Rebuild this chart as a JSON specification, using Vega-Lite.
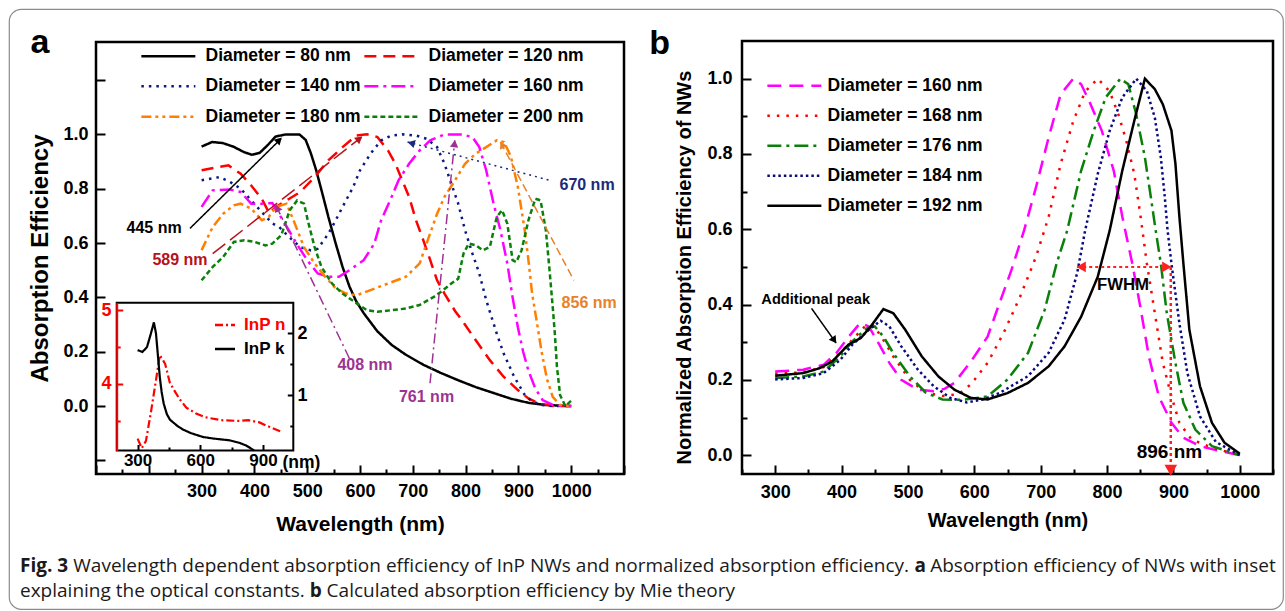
{
"$schema": "https://vega.github.io/schema/vega-lite/v6.json",
"width": 1274, "height": 600,
"autosize": {"type": "none"},
"padding": {"left": 9, "top": 9, "right": 2, "bottom": 2},
"background": "white",
"config": {
  "font": "Liberation Sans",
  "view": {"stroke": "#8c8c8c", "strokeWidth": 1.2, "cornerRadius": 12},
  "axis": {"labelFont": "Liberation Sans", "titleFont": "Liberation Sans", "labelFontWeight": "bold", "titleFontWeight": "bold", "labelColor": "black", "titleColor": "black", "tickColor": "black", "tickWidth": 2, "domain": false, "grid": false, "labelFlush": false, "labelOverlap": false, "labelBound": false},
  "legend": {"labelFont": "Liberation Sans", "labelFontWeight": "bold", "labelColor": "black"},
  "text": {"font": "Liberation Sans", "color": "black"},
  "line": {"strokeCap": "butt"}
},
"datasets": {
  "A": [
    {"s":"80","nm":300,"v":0.955},{"s":"80","nm":320,"v":0.972},{"s":"80","nm":340,"v":0.968},{"s":"80","nm":360,"v":0.955},{"s":"80","nm":380,"v":0.935},{"s":"80","nm":395,"v":0.925},{"s":"80","nm":410,"v":0.932},{"s":"80","nm":425,"v":0.96},{"s":"80","nm":440,"v":0.992},{"s":"80","nm":460,"v":1.0},{"s":"80","nm":485,"v":1.0},{"s":"80","nm":497,"v":0.98},{"s":"80","nm":507,"v":0.93},{"s":"80","nm":517,"v":0.868},{"s":"80","nm":527,"v":0.795},{"s":"80","nm":540,"v":0.697},{"s":"80","nm":554,"v":0.598},{"s":"80","nm":567,"v":0.512},{"s":"80","nm":580,"v":0.44},{"s":"80","nm":593,"v":0.385},{"s":"80","nm":607,"v":0.342},{"s":"80","nm":633,"v":0.275},{"s":"80","nm":660,"v":0.225},{"s":"80","nm":686,"v":0.19},{"s":"80","nm":720,"v":0.152},{"s":"80","nm":753,"v":0.122},{"s":"80","nm":786,"v":0.095},{"s":"80","nm":819,"v":0.07},{"s":"80","nm":853,"v":0.048},{"s":"80","nm":886,"v":0.027},{"s":"80","nm":919,"v":0.012},{"s":"80","nm":952,"v":0.004},{"s":"80","nm":1000,"v":0.0},
    {"s":"120","nm":300,"v":0.868},{"s":"120","nm":334,"v":0.88},{"s":"120","nm":351,"v":0.886},{"s":"120","nm":374,"v":0.855},{"s":"120","nm":394,"v":0.812},{"s":"120","nm":414,"v":0.763},{"s":"120","nm":428,"v":0.71},{"s":"120","nm":441,"v":0.733},{"s":"120","nm":461,"v":0.757},{"s":"120","nm":487,"v":0.788},{"s":"120","nm":514,"v":0.843},{"s":"120","nm":540,"v":0.904},{"s":"120","nm":567,"v":0.953},{"s":"120","nm":593,"v":0.996},{"s":"120","nm":613,"v":1.0},{"s":"120","nm":633,"v":0.99},{"s":"120","nm":653,"v":0.941},{"s":"120","nm":667,"v":0.892},{"s":"120","nm":680,"v":0.831},{"s":"120","nm":693,"v":0.77},{"s":"120","nm":706,"v":0.684},{"s":"120","nm":720,"v":0.61},{"s":"120","nm":733,"v":0.537},{"s":"120","nm":746,"v":0.463},{"s":"120","nm":760,"v":0.414},{"s":"120","nm":780,"v":0.35},{"s":"120","nm":793,"v":0.316},{"s":"120","nm":819,"v":0.243},{"s":"120","nm":846,"v":0.169},{"s":"120","nm":872,"v":0.108},{"s":"120","nm":899,"v":0.059},{"s":"120","nm":919,"v":0.028},{"s":"120","nm":939,"v":0.01},{"s":"120","nm":965,"v":0.0},{"s":"120","nm":1000,"v":0.0},
    {"s":"140","nm":300,"v":0.831},{"s":"140","nm":334,"v":0.843},{"s":"140","nm":354,"v":0.825},{"s":"140","nm":374,"v":0.8},{"s":"140","nm":394,"v":0.757},{"s":"140","nm":414,"v":0.714},{"s":"140","nm":434,"v":0.672},{"s":"140","nm":447,"v":0.659},{"s":"140","nm":467,"v":0.62},{"s":"140","nm":487,"v":0.585},{"s":"140","nm":507,"v":0.573},{"s":"140","nm":520,"v":0.579},{"s":"140","nm":540,"v":0.634},{"s":"140","nm":554,"v":0.684},{"s":"140","nm":567,"v":0.733},{"s":"140","nm":587,"v":0.806},{"s":"140","nm":600,"v":0.868},{"s":"140","nm":620,"v":0.929},{"s":"140","nm":640,"v":0.978},{"s":"140","nm":660,"v":0.996},{"s":"140","nm":680,"v":1.0},{"s":"140","nm":706,"v":0.996},{"s":"140","nm":726,"v":0.984},{"s":"140","nm":746,"v":0.953},{"s":"140","nm":760,"v":0.892},{"s":"140","nm":773,"v":0.818},{"s":"140","nm":786,"v":0.745},{"s":"140","nm":799,"v":0.647},{"s":"140","nm":813,"v":0.561},{"s":"140","nm":826,"v":0.488},{"s":"140","nm":839,"v":0.39},{"s":"140","nm":859,"v":0.267},{"s":"140","nm":872,"v":0.194},{"s":"140","nm":892,"v":0.108},{"s":"140","nm":912,"v":0.041},{"s":"140","nm":926,"v":0.017},{"s":"140","nm":945,"v":0.004},{"s":"140","nm":965,"v":0.0},{"s":"140","nm":1000,"v":0.0},
    {"s":"160","nm":300,"v":0.733},{"s":"160","nm":321,"v":0.794},{"s":"160","nm":354,"v":0.797},{"s":"160","nm":374,"v":0.788},{"s":"160","nm":394,"v":0.745},{"s":"160","nm":414,"v":0.745},{"s":"160","nm":434,"v":0.747},{"s":"160","nm":454,"v":0.684},{"s":"160","nm":480,"v":0.598},{"s":"160","nm":500,"v":0.537},{"s":"160","nm":520,"v":0.488},{"s":"160","nm":540,"v":0.476},{"s":"160","nm":560,"v":0.476},{"s":"160","nm":580,"v":0.5},{"s":"160","nm":607,"v":0.537},{"s":"160","nm":627,"v":0.598},{"s":"160","nm":640,"v":0.684},{"s":"160","nm":660,"v":0.77},{"s":"160","nm":673,"v":0.831},{"s":"160","nm":693,"v":0.892},{"s":"160","nm":713,"v":0.941},{"s":"160","nm":733,"v":0.978},{"s":"160","nm":760,"v":1.0},{"s":"160","nm":793,"v":1.0},{"s":"160","nm":813,"v":0.99},{"s":"160","nm":826,"v":0.953},{"s":"160","nm":839,"v":0.868},{"s":"160","nm":853,"v":0.745},{"s":"160","nm":866,"v":0.647},{"s":"160","nm":879,"v":0.525},{"s":"160","nm":889,"v":0.4},{"s":"160","nm":899,"v":0.29},{"s":"160","nm":909,"v":0.2},{"s":"160","nm":919,"v":0.13},{"s":"160","nm":932,"v":0.065},{"s":"160","nm":946,"v":0.022},{"s":"160","nm":965,"v":0.004},{"s":"160","nm":985,"v":0.0},{"s":"160","nm":1000,"v":0.0},
    {"s":"180","nm":300,"v":0.574},{"s":"180","nm":321,"v":0.659},{"s":"180","nm":341,"v":0.708},{"s":"180","nm":361,"v":0.739},{"s":"180","nm":374,"v":0.745},{"s":"180","nm":394,"v":0.727},{"s":"180","nm":414,"v":0.684},{"s":"180","nm":427,"v":0.696},{"s":"180","nm":441,"v":0.733},{"s":"180","nm":461,"v":0.745},{"s":"180","nm":474,"v":0.684},{"s":"180","nm":494,"v":0.585},{"s":"180","nm":514,"v":0.525},{"s":"180","nm":534,"v":0.476},{"s":"180","nm":554,"v":0.433},{"s":"180","nm":574,"v":0.414},{"s":"180","nm":594,"v":0.408},{"s":"180","nm":620,"v":0.427},{"s":"180","nm":653,"v":0.451},{"s":"180","nm":687,"v":0.476},{"s":"180","nm":713,"v":0.525},{"s":"180","nm":726,"v":0.598},{"s":"180","nm":746,"v":0.708},{"s":"180","nm":760,"v":0.77},{"s":"180","nm":780,"v":0.831},{"s":"180","nm":799,"v":0.892},{"s":"180","nm":819,"v":0.929},{"s":"180","nm":839,"v":0.953},{"s":"180","nm":859,"v":0.978},{"s":"180","nm":873,"v":0.972},{"s":"180","nm":886,"v":0.917},{"s":"180","nm":899,"v":0.806},{"s":"180","nm":912,"v":0.647},{"s":"180","nm":919,"v":0.537},{"s":"180","nm":926,"v":0.414},{"s":"180","nm":934,"v":0.32},{"s":"180","nm":944,"v":0.2},{"s":"180","nm":954,"v":0.1},{"s":"180","nm":965,"v":0.034},{"s":"180","nm":979,"v":0.004},{"s":"180","nm":1000,"v":0.0},
    {"s":"200","nm":300,"v":0.463},{"s":"200","nm":321,"v":0.512},{"s":"200","nm":341,"v":0.549},{"s":"200","nm":361,"v":0.604},{"s":"200","nm":381,"v":0.61},{"s":"200","nm":401,"v":0.604},{"s":"200","nm":421,"v":0.591},{"s":"200","nm":434,"v":0.598},{"s":"200","nm":451,"v":0.629},{"s":"200","nm":467,"v":0.721},{"s":"200","nm":481,"v":0.757},{"s":"200","nm":494,"v":0.745},{"s":"200","nm":501,"v":0.684},{"s":"200","nm":514,"v":0.585},{"s":"200","nm":527,"v":0.512},{"s":"200","nm":547,"v":0.451},{"s":"200","nm":567,"v":0.414},{"s":"200","nm":594,"v":0.378},{"s":"200","nm":613,"v":0.353},{"s":"200","nm":633,"v":0.347},{"s":"200","nm":660,"v":0.353},{"s":"200","nm":687,"v":0.359},{"s":"200","nm":713,"v":0.372},{"s":"200","nm":740,"v":0.402},{"s":"200","nm":753,"v":0.42},{"s":"200","nm":773,"v":0.451},{"s":"200","nm":786,"v":0.469},{"s":"200","nm":796,"v":0.561},{"s":"200","nm":806,"v":0.598},{"s":"200","nm":819,"v":0.592},{"s":"200","nm":833,"v":0.573},{"s":"200","nm":846,"v":0.586},{"s":"200","nm":859,"v":0.696},{"s":"200","nm":869,"v":0.721},{"s":"200","nm":879,"v":0.672},{"s":"200","nm":889,"v":0.537},{"s":"200","nm":896,"v":0.53},{"s":"200","nm":906,"v":0.573},{"s":"200","nm":919,"v":0.684},{"s":"200","nm":932,"v":0.763},{"s":"200","nm":942,"v":0.757},{"s":"200","nm":952,"v":0.647},{"s":"200","nm":959,"v":0.5},{"s":"200","nm":965,"v":0.365},{"s":"200","nm":969,"v":0.267},{"s":"200","nm":973,"v":0.145},{"s":"200","nm":979,"v":0.04},{"s":"200","nm":989,"v":0.0},{"s":"200","nm":1000,"v":0.02}
  ],
  "arrowsA": [
    {"id":"445","nm":278,"v":0.654},{"id":"445","nm":450.4,"v":0.984},
    {"id":"589","nm":321,"v":0.561},{"id":"589","nm":603,"v":0.99},
    {"id":"670","nm":959,"v":0.831},{"id":"670","nm":690,"v":0.972},
    {"id":"856","nm":1005,"v":0.463},{"id":"856","nm":866,"v":0.972},
    {"id":"408","nm":580,"v":0.175},{"id":"408","nm":440.7,"v":0.739},
    {"id":"761","nm":732.6,"v":0.084},{"id":"761","nm":779.5,"v":0.978}
  ],
  "headsA": [
    {"id":"445","nm":447,"v":0.979,"heading":45.4},
    {"id":"589","nm":599,"v":0.984,"heading":52},
    {"id":"670","nm":697,"v":0.968,"heading":285},
    {"id":"856","nm":869,"v":0.962,"heading":332},
    {"id":"408","nm":443,"v":0.729,"heading":334},
    {"id":"761","nm":779,"v":0.966,"heading":6}
  ],
  "labelsA": [
    {"id":"445","t":"445 nm","nm":210,"v":0.654},
    {"id":"589","t":"589 nm","nm":259,"v":0.537},
    {"id":"670","t":"670 nm","nm":1030,"v":0.812},
    {"id":"856","t":"856 nm","nm":1034,"v":0.379},
    {"id":"408","t":"408 nm","nm":609.5,"v":0.151},
    {"id":"761","t":"761 nm","nm":726,"v":0.034}
  ],
  "inN": [
    {"s":"InP n","nm":300,"val":3.26},{"s":"InP n","nm":320,"val":3.13},{"s":"InP n","nm":340,"val":3.23},{"s":"InP n","nm":365,"val":3.64},{"s":"InP n","nm":390,"val":4.09},{"s":"InP n","nm":406,"val":4.39},{"s":"InP n","nm":420,"val":4.33},{"s":"InP n","nm":432,"val":4.27},{"s":"InP n","nm":454,"val":4.02},{"s":"InP n","nm":474,"val":3.92},{"s":"InP n","nm":500,"val":3.8},{"s":"InP n","nm":533,"val":3.68},{"s":"InP n","nm":580,"val":3.6},{"s":"InP n","nm":624,"val":3.55},{"s":"InP n","nm":700,"val":3.51},{"s":"InP n","nm":787,"val":3.5},{"s":"InP n","nm":830,"val":3.51},{"s":"InP n","nm":883,"val":3.48},{"s":"InP n","nm":930,"val":3.42},{"s":"InP n","nm":982,"val":3.36}
  ],
  "inK": [
    {"s":"InP k","nm":300,"val":1.73},{"s":"InP k","nm":323,"val":1.7},{"s":"InP k","nm":345,"val":1.78},{"s":"InP k","nm":362,"val":1.98},{"s":"InP k","nm":378,"val":2.18},{"s":"InP k","nm":388,"val":2.0},{"s":"InP k","nm":397,"val":1.65},{"s":"InP k","nm":406,"val":1.3},{"s":"InP k","nm":415,"val":1.05},{"s":"InP k","nm":425,"val":0.86},{"s":"InP k","nm":440,"val":0.69},{"s":"InP k","nm":455,"val":0.6},{"s":"InP k","nm":490,"val":0.5},{"s":"InP k","nm":517,"val":0.44},{"s":"InP k","nm":557,"val":0.38},{"s":"InP k","nm":612,"val":0.32},{"s":"InP k","nm":660,"val":0.295},{"s":"InP k","nm":741,"val":0.265},{"s":"InP k","nm":791,"val":0.22},{"s":"InP k","nm":820,"val":0.18},{"s":"InP k","nm":841,"val":0.136},{"s":"InP k","nm":858,"val":0.1}
  ],
  "B": [
    {"s":"160","nm":300,"v":0.222},{"s":"160","nm":342,"v":0.227},{"s":"160","nm":373,"v":0.24},{"s":"160","nm":392,"v":0.271},{"s":"160","nm":410,"v":0.313},{"s":"160","nm":428,"v":0.351},{"s":"160","nm":441,"v":0.342},{"s":"160","nm":453,"v":0.306},{"s":"160","nm":472,"v":0.245},{"s":"160","nm":490,"v":0.2},{"s":"160","nm":515,"v":0.174},{"s":"160","nm":539,"v":0.17},{"s":"160","nm":555,"v":0.176},{"s":"160","nm":570,"v":0.192},{"s":"160","nm":595,"v":0.249},{"s":"160","nm":620,"v":0.315},{"s":"160","nm":638,"v":0.404},{"s":"160","nm":656,"v":0.492},{"s":"160","nm":675,"v":0.597},{"s":"160","nm":693,"v":0.712},{"s":"160","nm":712,"v":0.844},{"s":"160","nm":730,"v":0.958},{"s":"160","nm":749,"v":1.0},{"s":"160","nm":761,"v":0.985},{"s":"160","nm":773,"v":0.941},{"s":"160","nm":792,"v":0.862},{"s":"160","nm":810,"v":0.756},{"s":"160","nm":823,"v":0.633},{"s":"160","nm":838,"v":0.509},{"s":"160","nm":850,"v":0.395},{"s":"160","nm":863,"v":0.262},{"s":"160","nm":878,"v":0.156},{"s":"160","nm":897,"v":0.086},{"s":"160","nm":915,"v":0.046},{"s":"160","nm":940,"v":0.024},{"s":"160","nm":970,"v":0.011},{"s":"160","nm":1000,"v":0.0},
    {"s":"168","nm":300,"v":0.216},{"s":"168","nm":342,"v":0.22},{"s":"168","nm":373,"v":0.234},{"s":"168","nm":398,"v":0.271},{"s":"168","nm":416,"v":0.306},{"s":"168","nm":435,"v":0.342},{"s":"168","nm":447,"v":0.346},{"s":"168","nm":460,"v":0.315},{"s":"168","nm":478,"v":0.262},{"s":"168","nm":503,"v":0.2},{"s":"168","nm":527,"v":0.166},{"s":"168","nm":552,"v":0.157},{"s":"168","nm":576,"v":0.162},{"s":"168","nm":595,"v":0.188},{"s":"168","nm":620,"v":0.245},{"s":"168","nm":644,"v":0.324},{"s":"168","nm":669,"v":0.421},{"s":"168","nm":693,"v":0.527},{"s":"168","nm":712,"v":0.633},{"s":"168","nm":730,"v":0.773},{"s":"168","nm":749,"v":0.887},{"s":"168","nm":767,"v":0.966},{"s":"168","nm":786,"v":1.0},{"s":"168","nm":804,"v":0.966},{"s":"168","nm":817,"v":0.905},{"s":"168","nm":829,"v":0.835},{"s":"168","nm":841,"v":0.747},{"s":"168","nm":850,"v":0.64},{"s":"168","nm":860,"v":0.509},{"s":"168","nm":872,"v":0.377},{"s":"168","nm":884,"v":0.245},{"s":"168","nm":897,"v":0.156},{"s":"168","nm":909,"v":0.086},{"s":"168","nm":927,"v":0.042},{"s":"168","nm":958,"v":0.02},{"s":"168","nm":1000,"v":0.0},
    {"s":"176","nm":300,"v":0.205},{"s":"176","nm":342,"v":0.209},{"s":"176","nm":373,"v":0.222},{"s":"176","nm":398,"v":0.262},{"s":"176","nm":416,"v":0.302},{"s":"176","nm":438,"v":0.337},{"s":"176","nm":450,"v":0.342},{"s":"176","nm":463,"v":0.315},{"s":"176","nm":478,"v":0.271},{"s":"176","nm":503,"v":0.209},{"s":"176","nm":527,"v":0.166},{"s":"176","nm":552,"v":0.148},{"s":"176","nm":582,"v":0.147},{"s":"176","nm":620,"v":0.156},{"s":"176","nm":650,"v":0.201},{"s":"176","nm":681,"v":0.272},{"s":"176","nm":706,"v":0.386},{"s":"176","nm":724,"v":0.509},{"s":"176","nm":740,"v":0.597},{"s":"176","nm":761,"v":0.756},{"s":"176","nm":780,"v":0.862},{"s":"176","nm":798,"v":0.95},{"s":"176","nm":820,"v":1.0},{"s":"176","nm":832,"v":0.985},{"s":"176","nm":844,"v":0.905},{"s":"176","nm":857,"v":0.791},{"s":"176","nm":866,"v":0.685},{"s":"176","nm":873,"v":0.6},{"s":"176","nm":881,"v":0.509},{"s":"176","nm":890,"v":0.377},{"s":"176","nm":903,"v":0.245},{"s":"176","nm":915,"v":0.139},{"s":"176","nm":933,"v":0.068},{"s":"176","nm":958,"v":0.024},{"s":"176","nm":1000,"v":0.0},
    {"s":"184","nm":300,"v":0.201},{"s":"184","nm":342,"v":0.205},{"s":"184","nm":373,"v":0.218},{"s":"184","nm":398,"v":0.253},{"s":"184","nm":416,"v":0.293},{"s":"184","nm":441,"v":0.333},{"s":"184","nm":459,"v":0.357},{"s":"184","nm":472,"v":0.342},{"s":"184","nm":490,"v":0.289},{"s":"184","nm":515,"v":0.227},{"s":"184","nm":539,"v":0.183},{"s":"184","nm":564,"v":0.152},{"s":"184","nm":589,"v":0.14},{"s":"184","nm":613,"v":0.148},{"s":"184","nm":638,"v":0.165},{"s":"184","nm":681,"v":0.21},{"s":"184","nm":712,"v":0.272},{"s":"184","nm":736,"v":0.36},{"s":"184","nm":755,"v":0.484},{"s":"184","nm":767,"v":0.597},{"s":"184","nm":786,"v":0.747},{"s":"184","nm":804,"v":0.862},{"s":"184","nm":823,"v":0.95},{"s":"184","nm":844,"v":1.0},{"s":"184","nm":860,"v":0.967},{"s":"184","nm":872,"v":0.896},{"s":"184","nm":881,"v":0.791},{"s":"184","nm":887,"v":0.685},{"s":"184","nm":891,"v":0.6},{"s":"184","nm":897,"v":0.509},{"s":"184","nm":909,"v":0.35},{"s":"184","nm":921,"v":0.218},{"s":"184","nm":940,"v":0.103},{"s":"184","nm":964,"v":0.035},{"s":"184","nm":1000,"v":0.0},
    {"s":"192","nm":300,"v":0.211},{"s":"192","nm":342,"v":0.218},{"s":"192","nm":367,"v":0.231},{"s":"192","nm":386,"v":0.249},{"s":"192","nm":398,"v":0.271},{"s":"192","nm":410,"v":0.293},{"s":"192","nm":429,"v":0.311},{"s":"192","nm":444,"v":0.342},{"s":"192","nm":463,"v":0.388},{"s":"192","nm":478,"v":0.377},{"s":"192","nm":496,"v":0.333},{"s":"192","nm":521,"v":0.262},{"s":"192","nm":546,"v":0.209},{"s":"192","nm":570,"v":0.174},{"s":"192","nm":595,"v":0.152},{"s":"192","nm":620,"v":0.148},{"s":"192","nm":650,"v":0.165},{"s":"192","nm":681,"v":0.192},{"s":"192","nm":712,"v":0.236},{"s":"192","nm":736,"v":0.289},{"s":"192","nm":761,"v":0.368},{"s":"192","nm":786,"v":0.474},{"s":"192","nm":804,"v":0.597},{"s":"192","nm":823,"v":0.756},{"s":"192","nm":841,"v":0.888},{"s":"192","nm":857,"v":1.0},{"s":"192","nm":872,"v":0.972},{"s":"192","nm":884,"v":0.932},{"s":"192","nm":897,"v":0.862},{"s":"192","nm":903,"v":0.774},{"s":"192","nm":909,"v":0.633},{"s":"192","nm":915,"v":0.509},{"s":"192","nm":924,"v":0.333},{"s":"192","nm":940,"v":0.183},{"s":"192","nm":958,"v":0.086},{"s":"192","nm":977,"v":0.033},{"s":"192","nm":1000,"v":0.004}
  ],
  "arrowsB": [
    {"id":"peak","nm":354.7,"v":0.39},{"id":"peak","nm":391.7,"v":0.298},
    {"id":"fwhm","nm":755,"v":0.5},{"id":"fwhm","nm":896.5,"v":0.5},
    {"id":"v896","nm":896,"v":0.5},{"id":"v896","nm":896,"v":-0.045}
  ],
  "headsB": [
    {"id":"peak","nm":389,"v":0.305,"heading":145},
    {"id":"fwhm","nm":761,"v":0.5,"heading":270},
    {"id":"fwhm","nm":890,"v":0.5,"heading":90},
    {"id":"v896","nm":896,"v":-0.04,"heading":180}
  ],
  "labelsB": [
    {"id":"tpeak","t":"Additional peak","nm":361,"v":0.412},
    {"id":"tfwhm","t":"FWHM","nm":824,"v":0.452},
    {"id":"t896","t":"896 nm","nm":894,"v":0.008}
  ],
  "cap": [
    {"k":1,"line":1,"t":"Fig. 3"},
    {"k":2,"line":1,"t":"Wavelength dependent absorption efficiency of InP NWs and normalized absorption efficiency."},
    {"k":3,"line":1,"t":"a"},
    {"k":4,"line":1,"t":"Absorption efficiency of NWs with inset"},
    {"k":5,"line":2,"t":"explaining the optical constants."},
    {"k":6,"line":2,"t":"b"},
    {"k":7,"line":2,"t":"Calculated absorption efficiency by Mie theory"}
  ]
},
"layer": [
  {
    "layer": [
      {"data": {"values": [{}]}, "mark": {"type": "rect", "fill": "transparent", "stroke": "black", "strokeWidth": 2.5},
       "encoding": {"x": {"datum": 100, "type": "quantitative"}, "x2": {"datum": 1100}, "y": {"datum": -0.25, "type": "quantitative"}, "y2": {"datum": 1.34}}},
      {"data": {"name": "A"}, "mark": {"type": "line", "strokeWidth": 2.5},
       "encoding": {
         "x": {"field": "nm", "type": "quantitative", "scale": {"domain": [100, 1100], "range": [87, 615], "nice": false, "zero": false},
           "axis": {"orient": "bottom", "offset": -135, "values": [100,150,200,250,300,350,400,450,500,550,600,650,700,750,800,850,900,950,1000,1050,1100], "format": "d",
             "tickSize": {"condition": {"test": "datum.value % 100 === 0", "value": -9}, "value": -5},
             "labelExpr": "(datum.value % 100 === 0 && datum.value >= 300 && datum.value <= 1000) ? datum.label : ''",
             "labelFontSize": 18, "labelPadding": 17, "title": "Wavelength (nm)", "titleFontSize": 21, "titlePadding": 9}},
         "y": {"field": "v", "type": "quantitative", "scale": {"domain": [-0.25, 1.34], "range": [465, 33], "nice": false, "zero": false},
           "axis": {"orient": "left", "offset": -87, "values": [-0.2,-0.1,0,0.1,0.2,0.3,0.4,0.5,0.6,0.7,0.8,0.9,1,1.1,1.2,1.3], "format": ".1f",
             "tickSize": {"condition": {"test": "abs(round(datum.value*10)) % 2 === 0", "value": -9}, "value": -5},
             "labelExpr": "(abs(round(datum.value*10)) % 2 === 0 && datum.value > -0.01 && datum.value < 1.01) ? datum.label : ''",
             "labelFontSize": 18, "labelPadding": 17, "title": "Absorption Efficiency", "titleFontSize": 24, "titlePadding": 10}},
         "color": {"field": "s", "type": "nominal", "scale": {"domain": ["80","140","180","120","160","200"], "range": ["#000000","#0a1a80","#ff7f00","#ff0000","#ff00ff","#0a800a"]},
           "legend": {"orient": "none", "legendX": 129, "legendY": 38, "columns": 2, "title": null, "symbolType": "M-1,0H9", "symbolSize": 116.64, "symbolStrokeWidth": 2.5, "labelFontSize": 17.5, "labelOffset": 50, "labelLimit": 400, "rowPadding": 11.5, "columnPadding": -12, "padding": 0, "labelExpr": "'Diameter = ' + datum.label + ' nm'"}},
         "strokeDash": {"field": "s", "type": "nominal", "scale": {"domain": ["80","140","180","120","160","200"], "range": [[1,0],[2.5,5],[10,4,3,4,3,4],[12,7],[14,5,3,5],[5,3]]},
           "legend": {"orient": "none", "legendX": 129, "legendY": 38, "columns": 2, "title": null, "symbolType": "M-1,0H9", "symbolSize": 116.64, "symbolStrokeWidth": 2.5, "labelFontSize": 17.5, "labelOffset": 50, "labelLimit": 400, "rowPadding": 11.5, "columnPadding": -12, "padding": 0, "labelExpr": "'Diameter = ' + datum.label + ' nm'"}}
       }},
      {"layer": [
        {"data": {"name": "arrowsA"}, "mark": {"type": "line", "strokeWidth": 1.5},
         "encoding": {"x": {"field": "nm", "type": "quantitative"}, "y": {"field": "v", "type": "quantitative"}, "detail": {"field": "id"},
           "color": {"field": "id", "type": "nominal", "scale": {"domain": ["445","589","670","856","408","761"], "range": ["#000000","#b5121b","#1b2a7a","#e8822a","#9c3392","#9c3392"]}, "legend": null},
           "strokeDash": {"field": "id", "type": "nominal", "scale": {"domain": ["445","589","670","856","408","761"], "range": [[1,0],[16,6],[2,4],[8,4],[10,4,2,4],[10,4,2,4]]}, "legend": null}}},
        {"data": {"name": "headsA"}, "mark": {"type": "point", "shape": "triangle-up", "filled": true, "size": 70, "opacity": 1},
         "encoding": {"x": {"field": "nm", "type": "quantitative"}, "y": {"field": "v", "type": "quantitative"},
           "color": {"field": "id", "type": "nominal", "scale": {"domain": ["445","589","670","856","408","761"], "range": ["#000000","#b5121b","#1b2a7a","#e8822a","#9c3392","#9c3392"]}, "legend": null},
           "angle": {"field": "heading", "type": "quantitative", "scale": null}}},
        {"data": {"name": "labelsA"}, "mark": {"type": "text", "fontWeight": "bold", "fontSize": 16, "align": "center", "baseline": "middle"},
         "encoding": {"x": {"field": "nm", "type": "quantitative"}, "y": {"field": "v", "type": "quantitative"}, "text": {"field": "t"},
           "color": {"field": "id", "type": "nominal", "scale": {"domain": ["445","589","670","856","408","761"], "range": ["#000000","#b5121b","#1b2a7a","#e8822a","#9c3392","#9c3392"]}, "legend": null}}}
      ]},
      {"data": {"values": [{"t": "a", "nm": -6, "v": 1.298}]}, "mark": {"type": "text", "fontSize": 34, "fontWeight": "bold", "align": "center", "baseline": "alphabetic"},
       "encoding": {"x": {"field": "nm", "type": "quantitative"}, "y": {"field": "v", "type": "quantitative"}, "text": {"field": "t"}}}
    ],
    "resolve": {"scale": {"color": "independent", "strokeDash": "independent"}, "legend": {"color": "independent", "strokeDash": "independent"}}
  },
  {
    "layer": [
      {"data": {"values": [{}]}, "mark": {"type": "rect", "fill": "transparent", "stroke": "black", "strokeWidth": 2},
       "encoding": {"x": {"datum": 200, "type": "quantitative"}, "x2": {"datum": 1045},
         "y": {"datum": 0, "type": "quantitative", "scale": {"domain": [0, 1], "range": [441.5, 293.7], "nice": false, "zero": false}, "axis": null}, "y2": {"datum": 1}}},
      {"data": {"name": "inN"}, "mark": {"type": "line", "strokeWidth": 2.2},
       "encoding": {
         "x": {"field": "nm", "type": "quantitative", "scale": {"domain": [200, 1045], "range": [107.7, 284.3], "nice": false, "zero": false},
           "axis": {"orient": "bottom", "offset": -158.5, "values": [300,450,600,750,900], "format": "d",
             "tickSize": {"condition": {"test": "datum.value % 300 === 0", "value": -6}, "value": -3.5},
             "labelExpr": "datum.value % 300 === 0 ? datum.label : ''",
             "labelFontSize": 17, "labelPadding": 8, "title": "(nm)", "titleFontSize": 17.5, "titleX": 292, "titleY": 11.5, "titleAlign": "center", "titleBaseline": "middle", "titleAngle": 0, "zindex": 1}},
         "y": {"field": "val", "type": "quantitative", "scale": {"domain": [3.1, 5.1], "range": [441.5, 293.7], "nice": false, "zero": false},
           "axis": {"orient": "left", "offset": -107.7, "values": [3.5,4,4.5,5], "format": ".0f",
             "tickSize": {"condition": {"test": "datum.value % 1 === 0", "value": -6}, "value": -3.5},
             "labelExpr": "datum.value % 1 === 0 ? datum.label : ''",
             "domain": true, "domainColor": "#ff0000", "domainWidth": 2, "tickColor": "#ff0000", "labelColor": "#ff0000", "labelFontSize": 18, "labelPadding": 11.7, "title": null, "zindex": 2}},
         "color": {"field": "s", "type": "nominal", "scale": {"domain": ["InP n","InP k"], "range": ["#ff0000","#000000"]},
           "legend": {"orient": "none", "legendX": 199.5, "legendY": 307.5, "title": null, "symbolType": "M-1,0H9", "symbolSize": 16, "symbolStrokeWidth": 2.5, "labelFontSize": 17, "labelOffset": 18.6, "rowPadding": 6, "padding": 0,
             "encode": {"labels": {"update": {"fill": {"signal": "datum.label === 'InP n' ? '#ff0000' : '#000000'"}}}}}},
         "strokeDash": {"field": "s", "type": "nominal", "scale": {"domain": ["InP n","InP k"], "range": [[8,3,2,3],[1,0]]},
           "legend": {"orient": "none", "legendX": 199.5, "legendY": 307.5, "title": null, "symbolType": "M-1,0H9", "symbolSize": 16, "symbolStrokeWidth": 2.5, "labelFontSize": 17, "labelOffset": 18.6, "rowPadding": 6, "padding": 0,
             "encode": {"labels": {"update": {"fill": {"signal": "datum.label === 'InP n' ? '#ff0000' : '#000000'"}}}}}}
       }},
      {"data": {"name": "inK"}, "mark": {"type": "line", "strokeWidth": 2.2},
       "encoding": {
         "x": {"field": "nm", "type": "quantitative"},
         "y": {"field": "val", "type": "quantitative", "scale": {"domain": [0.1, 2.5], "range": [441.5, 293.7], "nice": false, "zero": false},
           "axis": {"orient": "right", "offset": -989.7, "values": [0.5,1,1.5,2], "format": ".0f",
             "tickSize": {"condition": {"test": "datum.value % 1 === 0", "value": -6}, "value": -3.5},
             "labelExpr": "datum.value % 1 === 0 ? datum.label : ''",
             "labelFontSize": 18, "labelPadding": 9.7, "title": null, "zindex": 1}},
         "color": {"field": "s", "type": "nominal"},
         "strokeDash": {"field": "s", "type": "nominal"}
       }}
    ],
    "resolve": {"scale": {"y": "independent"}, "axis": {"y": "independent"}}
  },
  {
    "layer": [
      {"data": {"values": [{}]}, "mark": {"type": "rect", "fill": "transparent", "stroke": "black", "strokeWidth": 2.5},
       "encoding": {"x": {"datum": 250, "type": "quantitative"}, "x2": {"datum": 1050}, "y": {"datum": -0.05, "type": "quantitative"}, "y2": {"datum": 1.1}}},
      {"data": {"name": "B"}, "mark": {"type": "line", "strokeWidth": 2.5},
       "encoding": {
         "x": {"field": "nm", "type": "quantitative", "scale": {"domain": [250, 1050], "range": [733, 1264], "nice": false, "zero": false},
           "axis": {"orient": "bottom", "offset": -135, "values": [250,300,350,400,450,500,550,600,650,700,750,800,850,900,950,1000,1050], "format": "d",
             "tickSize": {"condition": {"test": "datum.value % 100 === 0", "value": -9}, "value": -5},
             "labelExpr": "(datum.value % 100 === 0 && datum.value >= 300 && datum.value <= 1000) ? datum.label : ''",
             "labelFontSize": 18, "labelPadding": 18, "title": "Wavelength (nm)", "titleFontSize": 20, "titlePadding": 5}},
         "y": {"field": "v", "type": "quantitative", "scale": {"domain": [-0.05, 1.1], "range": [465, 32], "nice": false, "zero": false},
           "axis": {"orient": "left", "offset": -733, "values": [0,0.1,0.2,0.3,0.4,0.5,0.6,0.7,0.8,0.9,1], "format": ".1f",
             "tickSize": {"condition": {"test": "round(datum.value*10) % 2 === 0", "value": -9}, "value": -5},
             "labelExpr": "round(datum.value*10) % 2 === 0 ? datum.label : ''",
             "labelFontSize": 18, "labelPadding": 19, "title": "Normalized Absorption Efficiency of NWs", "titleFontSize": 20, "titlePadding": 12, "titleY": 258}},
         "color": {"field": "s", "type": "nominal", "scale": {"domain": ["160","168","176","184","192"], "range": ["#ff00ff","#ff0000","#0a800a","#0a0a80","#000000"]},
           "legend": {"orient": "none", "legendX": 755, "legendY": 68, "title": null, "symbolType": "M-1,0H9", "symbolSize": 116.64, "symbolStrokeWidth": 2.5, "labelFontSize": 17.5, "labelOffset": 46, "labelLimit": 400, "rowPadding": 11, "padding": 0, "labelExpr": "'Diameter = ' + datum.label + ' nm'"}},
         "strokeDash": {"field": "s", "type": "nominal", "scale": {"domain": ["160","168","176","184","192"], "range": [[14,8],[2.5,7],[14,5,3,5],[2.5,3],[1,0]]},
           "legend": {"orient": "none", "legendX": 755, "legendY": 68, "title": null, "symbolType": "M-1,0H9", "symbolSize": 116.64, "symbolStrokeWidth": 2.5, "labelFontSize": 17.5, "labelOffset": 46, "labelLimit": 400, "rowPadding": 11, "padding": 0, "labelExpr": "'Diameter = ' + datum.label + ' nm'"}}
       }},
      {"layer": [
        {"data": {"name": "arrowsB"}, "mark": {"type": "line"},
         "encoding": {"x": {"field": "nm", "type": "quantitative"}, "y": {"field": "v", "type": "quantitative"}, "detail": {"field": "id"},
           "color": {"field": "id", "type": "nominal", "scale": {"domain": ["peak","fwhm","v896"], "range": ["#000000","#ff2020","#ff2020"]}, "legend": null},
           "strokeDash": {"field": "id", "type": "nominal", "scale": {"domain": ["peak","fwhm","v896"], "range": [[1,0],[3,3],[3,3]]}, "legend": null},
           "strokeWidth": {"field": "id", "type": "nominal", "scale": {"domain": ["peak","fwhm","v896"], "range": [1.5,2.5,2.2]}, "legend": null}}},
        {"data": {"name": "headsB"}, "mark": {"type": "point", "shape": "triangle-up", "filled": true, "opacity": 1},
         "encoding": {"x": {"field": "nm", "type": "quantitative"}, "y": {"field": "v", "type": "quantitative"},
           "color": {"field": "id", "type": "nominal", "scale": {"domain": ["peak","fwhm","v896"], "range": ["#000000","#ff2020","#ff2020"]}, "legend": null},
           "size": {"field": "id", "type": "nominal", "scale": {"domain": ["peak","fwhm","v896"], "range": [70,160,45]}, "legend": null},
           "angle": {"field": "heading", "type": "quantitative", "scale": null}}}
      ]},
      {"data": {"name": "labelsB"}, "mark": {"type": "text", "fontWeight": "bold", "align": "center", "baseline": "middle", "color": "black"},
       "encoding": {"x": {"field": "nm", "type": "quantitative"}, "y": {"field": "v", "type": "quantitative"}, "text": {"field": "t"},
         "size": {"field": "id", "type": "nominal", "scale": {"domain": ["tpeak","tfwhm","t896"], "range": [14.6,19,16.5]}, "legend": null}}},
      {"data": {"values": [{"t": "b", "nm": 126, "v": 1.065}]}, "mark": {"type": "text", "fontSize": 34, "fontWeight": "bold", "align": "center", "baseline": "alphabetic"},
       "encoding": {"x": {"field": "nm", "type": "quantitative"}, "y": {"field": "v", "type": "quantitative"}, "text": {"field": "t"}}}
    ],
    "resolve": {"scale": {"color": "independent", "strokeDash": "independent", "size": "independent"}, "legend": {"color": "independent", "strokeDash": "independent", "size": "independent"}}
  },
  {
    "data": {"name": "cap"},
    "encoding": {
      "x": {"datum": 0, "type": "quantitative", "scale": {"domain": [0, 1], "range": [11, 1270]}, "axis": null},
      "y": {"field": "line", "type": "quantitative", "scale": {"domain": [1, 2], "range": [562.5, 587.5], "zero": false, "nice": false}, "axis": null},
      "text": {"field": "t"}
    },
    "layer": [
      {"transform": [{"filter": "datum.k == 1"}], "mark": {"type": "text", "font": "Open Sans", "fontSize": 19, "fontWeight": "bold", "align": "left", "baseline": "alphabetic", "color": "#1a1a1a"}},
      {"transform": [{"filter": "datum.k == 2"}], "mark": {"type": "text", "font": "Open Sans", "fontSize": 19, "align": "left", "baseline": "alphabetic", "color": "#1a1a1a", "dx": 53.3}},
      {"transform": [{"filter": "datum.k == 3"}], "mark": {"type": "text", "font": "Open Sans", "fontSize": 19, "fontWeight": "bold", "align": "left", "baseline": "alphabetic", "color": "#1a1a1a", "dx": 894.5}},
      {"transform": [{"filter": "datum.k == 4"}], "mark": {"type": "text", "font": "Open Sans", "fontSize": 19, "align": "left", "baseline": "alphabetic", "color": "#1a1a1a", "dx": 910.2}},
      {"transform": [{"filter": "datum.k == 5"}], "mark": {"type": "text", "font": "Open Sans", "fontSize": 19, "align": "left", "baseline": "alphabetic", "color": "#1a1a1a"}},
      {"transform": [{"filter": "datum.k == 6"}], "mark": {"type": "text", "font": "Open Sans", "fontSize": 19, "fontWeight": "bold", "align": "left", "baseline": "alphabetic", "color": "#1a1a1a", "dx": 289.8}},
      {"transform": [{"filter": "datum.k == 7"}], "mark": {"type": "text", "font": "Open Sans", "fontSize": 19, "align": "left", "baseline": "alphabetic", "color": "#1a1a1a", "dx": 306.6}}
    ]
  }
],
"resolve": {
  "scale": {"x": "independent", "y": "independent", "color": "independent", "strokeDash": "independent", "size": "independent", "strokeWidth": "independent"},
  "axis": {"x": "independent", "y": "independent"},
  "legend": {"color": "independent", "strokeDash": "independent", "size": "independent", "strokeWidth": "independent"}
}
}
